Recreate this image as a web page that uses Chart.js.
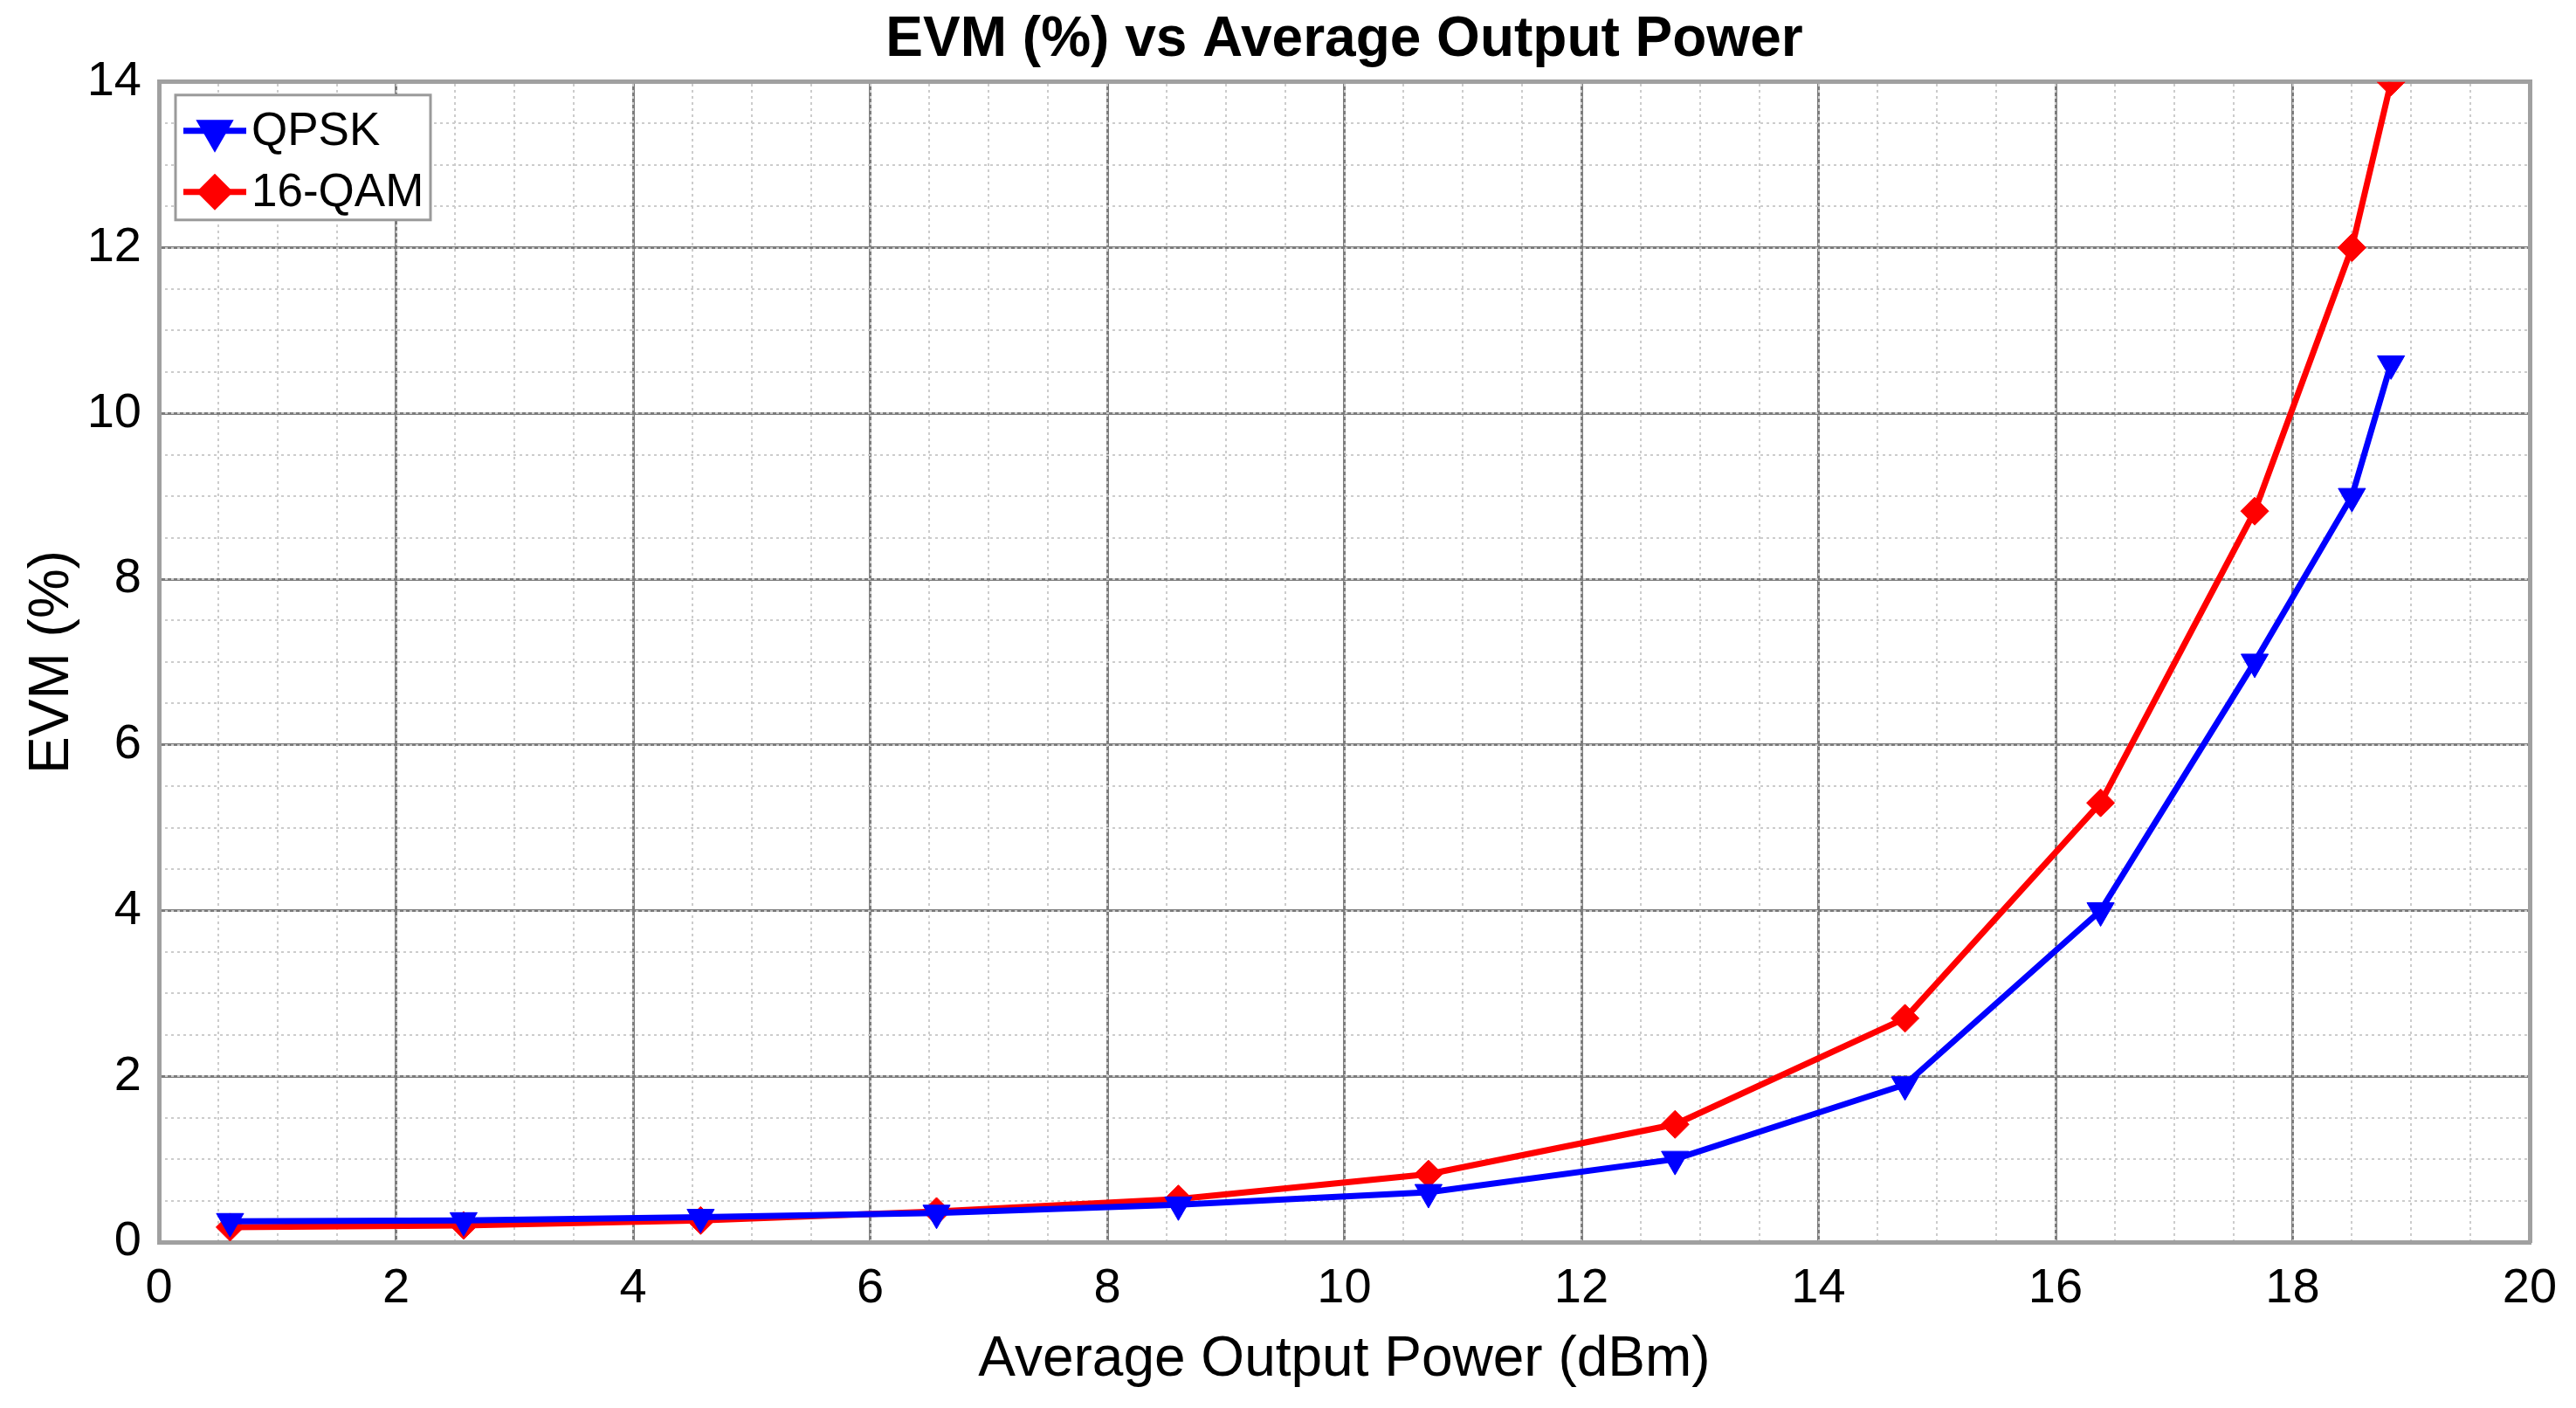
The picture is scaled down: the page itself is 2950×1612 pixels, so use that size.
<!DOCTYPE html>
<html>
<head>
<meta charset="utf-8">
<script src="https://cdn.jsdelivr.net/npm/chart.js@4.4.1/dist/chart.umd.min.js"></script>
<style>
html,body{margin:0;padding:0;background:#fff;}
canvas{display:block;}
</style>
</head>
<body>
<canvas id="c" width="2950" height="1612"></canvas>
<script>
// ---- data ----
const powerQPSK = [0.6, 2.57, 4.57, 6.56, 8.6, 10.71, 12.79, 14.73, 16.38, 17.68, 18.5, 18.83];
const evmQPSK   = [0.25, 0.26, 0.3, 0.35, 0.45, 0.6, 1.0, 1.9, 4.0, 7.0, 9.0, 10.6];
const power16QAM = [0.6, 2.57, 4.57, 6.56, 8.6, 10.71, 12.79, 14.73, 16.38, 17.68, 18.5, 18.83];
const evm16QAM   = [0.18, 0.2, 0.26, 0.37, 0.52, 0.82, 1.42, 2.7, 5.3, 8.82, 12.0, 14.0];
const seriesNames = ["QPSK", "16-QAM"];
const chartTitle = "EVM (%) vs Average Output Power";
const xTitle = "Average Output Power (dBm)";
const yTitle = "EVM (%)";
const xRange = [0, 20], xMajor = 2, xMinor = 0.5;
const yRange = [0, 14], yMajor = 2, yMinor = 0.5;

const FONT = "'Liberation Sans', Arial, Helvetica, sans-serif";
const toXY = (xs, ys) => xs.map((x, i) => ({x: x, y: ys[i]}));

const legendPlugin = {
  id: 'insideLegend',
  afterDraw(chart) {
    const ctx = chart.ctx, ca = chart.chartArea;
    const bx = ca.left + 19, by = ca.top + 15, bw = 292, bh = 143;
    ctx.save();
    ctx.fillStyle = '#ffffff';
    ctx.fillRect(bx, by, bw, bh);
    ctx.strokeStyle = '#9a9a9a';
    ctx.lineWidth = 3;
    ctx.strokeRect(bx, by, bw, bh);
    const rows = [by + 41, by + 111];
    chart.data.datasets.forEach((ds, i) => {
      const yy = rows[i];
      ctx.strokeStyle = ds.borderColor;
      ctx.lineWidth = ds.borderWidth;
      ctx.beginPath();
      ctx.moveTo(bx + 9, yy);
      ctx.lineTo(bx + 81, yy);
      ctx.stroke();
      Chart.helpers.drawPoint(ctx, {
        pointStyle: ds.pointStyle, radius: ds.pointRadius, rotation: ds.pointRotation || 0,
        borderWidth: 1
      }, bx + 45, yy);
      ctx.fillStyle = ds.borderColor;
      ctx.fill();
      ctx.fillStyle = '#000';
      ctx.font = "53px " + FONT;
      ctx.textBaseline = 'middle';
      ctx.textAlign = 'left';
      ctx.fillText(ds.label, bx + 87, yy + 2);
    });
    ctx.restore();
  }
};

new Chart(document.getElementById('c'), {
  type: 'line',
  data: {
    datasets: [
      {
        label: seriesNames[0],
        data: toXY(powerQPSK, evmQPSK),
        borderColor: '#0000ff', backgroundColor: '#0000ff',
        borderWidth: 7, pointStyle: 'triangle', pointRotation: 180,
        pointRadius: 18, pointBorderWidth: 1, tension: 0
      },
      {
        label: seriesNames[1],
        data: toXY(power16QAM, evm16QAM),
        borderColor: '#ff0000', backgroundColor: '#ff0000',
        borderWidth: 7, pointStyle: 'rectRot',
        pointRadius: 16, pointBorderWidth: 1, tension: 0
      }
    ]
  },
  options: {
    responsive: false,
    animation: false,
    devicePixelRatio: 1,
    layout: { padding: { left: 0, right: 53, top: 0, bottom: 0 } },
    plugins: {
      legend: { display: false },
      tooltip: { enabled: false },
      title: {
        display: true, text: chartTitle, color: '#000', fullSize: false,
        font: { family: FONT, size: 64, weight: 'bold' },
        padding: { top: 8, bottom: 9 }
      }
    },
    scales: {
      x: {
        type: 'linear', position: 'bottom', min: xRange[0], max: xRange[1],
        ticks: { stepSize: xMajor, color: '#000', font: { family: FONT, size: 56 }, padding: 20, maxRotation: 0 },
        grid: { color: '#7c7c7c', lineWidth: 3, drawTicks: false },
        border: { display: true, color: '#a0a0a0', width: 5 },
        title: { display: true, text: xTitle, color: '#000', font: { family: FONT, size: 64 }, padding: { top: 0, bottom: 16 } },
        afterFit: s => { s.height = 190; }
      },
      xMinor: {
        type: 'linear', position: 'top', min: xRange[0], max: xRange[1], z: -1,
        ticks: { stepSize: xMinor, display: false },
        grid: { color: '#cccccc', lineWidth: 2, drawTicks: false },
        border: { display: true, color: '#a0a0a0', width: 5, dash: [3, 4] },
        afterFit: s => { s.height = 0; }
      },
      y: {
        type: 'linear', position: 'left', min: yRange[0], max: yRange[1],
        ticks: { stepSize: yMajor, color: '#000', font: { family: FONT, size: 56 }, padding: 20 },
        grid: { color: '#7c7c7c', lineWidth: 3, drawTicks: false },
        border: { display: true, color: '#a0a0a0', width: 5 },
        title: { display: true, text: yTitle, color: '#000', font: { family: FONT, size: 64 }, padding: { top: 22, bottom: 0 } },
        afterFit: s => { s.width = 182; }
      },
      yMinor: {
        type: 'linear', position: 'right', min: yRange[0], max: yRange[1], z: -1,
        ticks: { stepSize: yMinor, display: false },
        grid: { color: '#cccccc', lineWidth: 2, drawTicks: false },
        border: { display: true, color: '#a0a0a0', width: 5, dash: [3, 4] },
        afterFit: s => { s.width = 0; }
      }
    }
  },
  plugins: [legendPlugin]
});
</script>
</body>
</html>
